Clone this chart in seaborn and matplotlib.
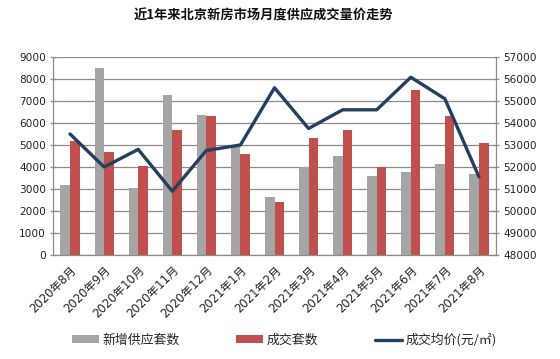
import numpy as np
import pandas as pd
import matplotlib
matplotlib.use("Agg")
import matplotlib.pyplot as plt
import seaborn as sns
from matplotlib.patches import Patch
from matplotlib.lines import Line2D

months = ["2020年8月", "2020年9月", "2020年10月", "2020年11月", "2020年12月",
          "2021年1月", "2021年2月", "2021年3月", "2021年4月", "2021年5月",
          "2021年6月", "2021年7月", "2021年8月"]
supply = [3200, 8500, 3050, 7250, 6350, 4900, 2650, 4000, 4500, 3600, 3780, 4140, 3700]
deals = [5200, 4700, 4050, 5700, 6300, 4600, 2400, 5300, 5700, 4000, 7500, 6300, 5100]
price = [53500, 52000, 52800, 50900, 52750, 53000, 55600, 53750, 54600, 54600, 56080, 55100, 51550]

s_supply = "新增供应套数"
s_deals = "成交套数"
s_price = "成交均价(元/㎡)"
title = "近1年来北京新房市场月度供应成交量价走势"

sns.set_style("white")
plt.rcParams["font.family"] = ["DejaVu Sans", "Noto Sans CJK SC"]
cjk = ["Noto Sans CJK SC", "DejaVu Sans"]

c_gray = "#A5A5A5"
c_red = "#C0504D"
c_line = "#243F60"

df = pd.DataFrame({
    "month": months * 2,
    "value": supply + deals,
    "series": [s_supply] * len(months) + [s_deals] * len(months),
})

fig = plt.figure(figsize=(5.6, 3.59), dpi=100)
ax = fig.add_axes([53 / 560, 1 - 255 / 359, (496 - 53) / 560, (255 - 57) / 359])

sns.barplot(data=df, x="month", y="value", hue="series", order=months,
            hue_order=[s_supply, s_deals], palette=[c_gray, c_red],
            width=0.56, ax=ax, legend=False, saturation=1, linewidth=0)

ax.set_ylim(0, 9000)
ax.set_yticks(np.arange(0, 9001, 1000))
ax.set_xlim(-0.5, len(months) - 0.5)
ax.yaxis.grid(True, color="#8c8c8c", linewidth=0.9)
ax.set_axisbelow(True)
ax.set_xlabel("")
ax.set_ylabel("")

ax2 = ax.twinx()
sns.lineplot(x=np.arange(len(months)), y=price, ax=ax2, color=c_line, linewidth=2.4)
ax2.set_ylim(48000, 57000)
ax2.set_yticks(np.arange(48000, 57001, 1000))
ax2.set_ylabel("")

for a in (ax, ax2):
    for sp in a.spines.values():
        sp.set_color("#8c8c8c")
        sp.set_linewidth(0.9)
    a.spines["top"].set_visible(False)

ax.spines["right"].set_visible(False)
ax2.spines["left"].set_visible(False)
ax2.spines["bottom"].set_visible(False)

ax.tick_params(axis="y", length=4, color="#8c8c8c", labelsize=7.6, labelcolor="#222222", pad=3, direction="inout", width=0.9)
ax2.tick_params(axis="y", length=4, color="#8c8c8c", labelsize=7.6, labelcolor="#222222", pad=3, direction="inout", width=0.9)

ax.set_xticks(np.arange(len(months)))
ax.set_xticklabels(months, rotation=45, ha="right", rotation_mode="anchor", fontsize=8.4, color="#222222")
ax.tick_params(axis="x", which="major", length=0, pad=6)
ax.set_xticks(np.arange(-0.5, len(months), 1.0), minor=True)
ax.tick_params(axis="x", which="minor", length=4, color="#8c8c8c", width=0.9)

fig.text(264 / 560, 1 - 15 / 359, title, ha="center", va="center", fontsize=9.5,
         fontweight="bold", color="#111111", family=cjk)

handles = [Patch(facecolor=c_gray, edgecolor="none"),
           Patch(facecolor=c_red, edgecolor="none"),
           Line2D([0], [0], color=c_line, linewidth=2.4)]
fig.legend(handles, [s_supply, s_deals, s_price], loc="center", bbox_to_anchor=(284 / 560, 1 - 340 / 359),
           ncol=3, frameon=False, prop={"family": cjk, "size": 9.3}, handlelength=2.1, handleheight=0.55,
           columnspacing=4.4, handletextpad=0.25)

fig.savefig("out.png", dpi=100)
